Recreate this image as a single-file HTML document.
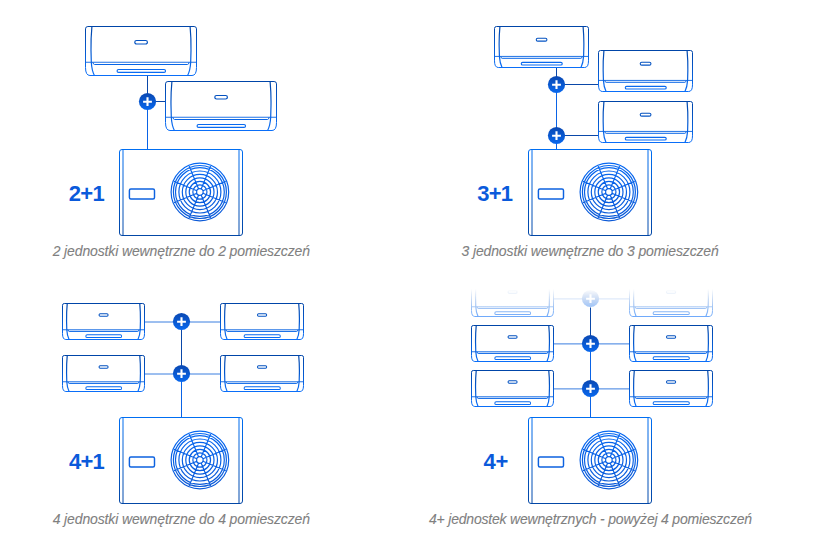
<!DOCTYPE html>
<html><head><meta charset="utf-8"><style>
html,body{margin:0;padding:0;background:#fff;width:820px;height:558px;overflow:hidden}
svg{display:block}
.lbl{font-family:"Liberation Sans",sans-serif;font-weight:bold;font-size:22px;letter-spacing:-0.4px;fill:#0a5adb}
.cap{font-family:"Liberation Sans",sans-serif;font-style:italic;font-size:14px;fill:#808080;stroke:#808080;stroke-width:0.1px}
</style></head><body>
<svg width="820" height="558" viewBox="0 0 820 558">
<defs><linearGradient id="g1" gradientUnits="userSpaceOnUse" x1="0" y1="26.5" x2="0" y2="75.5"><stop offset="0" stop-color="#0045a8"/><stop offset="1" stop-color="#0a6ef8"/></linearGradient><linearGradient id="g2" gradientUnits="userSpaceOnUse" x1="0" y1="81.5" x2="0" y2="130.5"><stop offset="0" stop-color="#0045a8"/><stop offset="1" stop-color="#0a6ef8"/></linearGradient><linearGradient id="g3" gradientUnits="userSpaceOnUse" x1="0" y1="92.9" x2="0" y2="110.1"><stop offset="0" stop-color="#0a48b2"/><stop offset="1" stop-color="#0868ee"/></linearGradient><linearGradient id="g4" gradientUnits="userSpaceOnUse" x1="0" y1="149.5" x2="0" y2="235.5"><stop offset="0" stop-color="#006ef2"/><stop offset="1" stop-color="#0347a6"/></linearGradient><linearGradient id="g5" gradientUnits="userSpaceOnUse" x1="0" y1="163.0" x2="0" y2="221.0"><stop offset="0" stop-color="#0668f2"/><stop offset="1" stop-color="#0a58d6"/></linearGradient><linearGradient id="g6" gradientUnits="userSpaceOnUse" x1="0" y1="26.5" x2="0" y2="67.5"><stop offset="0" stop-color="#0045a8"/><stop offset="1" stop-color="#0a6ef8"/></linearGradient><linearGradient id="g7" gradientUnits="userSpaceOnUse" x1="0" y1="50.5" x2="0" y2="91.5"><stop offset="0" stop-color="#0045a8"/><stop offset="1" stop-color="#0a6ef8"/></linearGradient><linearGradient id="g8" gradientUnits="userSpaceOnUse" x1="0" y1="101.5" x2="0" y2="142.5"><stop offset="0" stop-color="#0045a8"/><stop offset="1" stop-color="#0a6ef8"/></linearGradient><linearGradient id="g9" gradientUnits="userSpaceOnUse" x1="0" y1="75.9" x2="0" y2="93.1"><stop offset="0" stop-color="#0a48b2"/><stop offset="1" stop-color="#0868ee"/></linearGradient><linearGradient id="g10" gradientUnits="userSpaceOnUse" x1="0" y1="126.9" x2="0" y2="144.1"><stop offset="0" stop-color="#0a48b2"/><stop offset="1" stop-color="#0868ee"/></linearGradient><linearGradient id="g11" gradientUnits="userSpaceOnUse" x1="0" y1="149.5" x2="0" y2="235.5"><stop offset="0" stop-color="#006ef2"/><stop offset="1" stop-color="#0347a6"/></linearGradient><linearGradient id="g12" gradientUnits="userSpaceOnUse" x1="0" y1="163.0" x2="0" y2="221.0"><stop offset="0" stop-color="#0668f2"/><stop offset="1" stop-color="#0a58d6"/></linearGradient><linearGradient id="g13" gradientUnits="userSpaceOnUse" x1="0" y1="303.5" x2="0" y2="339.5"><stop offset="0" stop-color="#0045a8"/><stop offset="1" stop-color="#0a6ef8"/></linearGradient><linearGradient id="g14" gradientUnits="userSpaceOnUse" x1="0" y1="355.5" x2="0" y2="391.5"><stop offset="0" stop-color="#0045a8"/><stop offset="1" stop-color="#0a6ef8"/></linearGradient><linearGradient id="g15" gradientUnits="userSpaceOnUse" x1="0" y1="303.5" x2="0" y2="339.5"><stop offset="0" stop-color="#0045a8"/><stop offset="1" stop-color="#0a6ef8"/></linearGradient><linearGradient id="g16" gradientUnits="userSpaceOnUse" x1="0" y1="355.5" x2="0" y2="391.5"><stop offset="0" stop-color="#0045a8"/><stop offset="1" stop-color="#0a6ef8"/></linearGradient><linearGradient id="g17" gradientUnits="userSpaceOnUse" x1="0" y1="312.9" x2="0" y2="330.1"><stop offset="0" stop-color="#0a48b2"/><stop offset="1" stop-color="#0868ee"/></linearGradient><linearGradient id="g18" gradientUnits="userSpaceOnUse" x1="0" y1="364.9" x2="0" y2="382.1"><stop offset="0" stop-color="#0a48b2"/><stop offset="1" stop-color="#0868ee"/></linearGradient><linearGradient id="g19" gradientUnits="userSpaceOnUse" x1="0" y1="417.5" x2="0" y2="503.5"><stop offset="0" stop-color="#006ef2"/><stop offset="1" stop-color="#0347a6"/></linearGradient><linearGradient id="g20" gradientUnits="userSpaceOnUse" x1="0" y1="431.0" x2="0" y2="489.0"><stop offset="0" stop-color="#0668f2"/><stop offset="1" stop-color="#0a58d6"/></linearGradient><linearGradient id="g21" gradientUnits="userSpaceOnUse" x1="0" y1="325.5" x2="0" y2="361.5"><stop offset="0" stop-color="#0045a8"/><stop offset="1" stop-color="#0a6ef8"/></linearGradient><linearGradient id="g22" gradientUnits="userSpaceOnUse" x1="0" y1="370.5" x2="0" y2="406.5"><stop offset="0" stop-color="#0045a8"/><stop offset="1" stop-color="#0a6ef8"/></linearGradient><linearGradient id="g23" gradientUnits="userSpaceOnUse" x1="0" y1="325.5" x2="0" y2="361.5"><stop offset="0" stop-color="#0045a8"/><stop offset="1" stop-color="#0a6ef8"/></linearGradient><linearGradient id="g24" gradientUnits="userSpaceOnUse" x1="0" y1="370.5" x2="0" y2="406.5"><stop offset="0" stop-color="#0045a8"/><stop offset="1" stop-color="#0a6ef8"/></linearGradient><linearGradient id="g25" gradientUnits="userSpaceOnUse" x1="0" y1="334.9" x2="0" y2="352.1"><stop offset="0" stop-color="#0a48b2"/><stop offset="1" stop-color="#0868ee"/></linearGradient><linearGradient id="g26" gradientUnits="userSpaceOnUse" x1="0" y1="379.9" x2="0" y2="397.1"><stop offset="0" stop-color="#0a48b2"/><stop offset="1" stop-color="#0868ee"/></linearGradient><linearGradient id="fadeg" gradientUnits="userSpaceOnUse" x1="0" y1="289" x2="0" y2="322"><stop offset="0" stop-color="#fff" stop-opacity="0"/><stop offset="1" stop-color="#fff" stop-opacity="0.7"/></linearGradient><mask id="fade" maskUnits="userSpaceOnUse" x="0" y="270" width="820" height="60"><rect x="0" y="270" width="820" height="60" fill="url(#fadeg)"/></mask><linearGradient id="g27" gradientUnits="userSpaceOnUse" x1="0" y1="280.5" x2="0" y2="316.5"><stop offset="0" stop-color="#0045a8"/><stop offset="1" stop-color="#0a6ef8"/></linearGradient><linearGradient id="g28" gradientUnits="userSpaceOnUse" x1="0" y1="280.5" x2="0" y2="316.5"><stop offset="0" stop-color="#0045a8"/><stop offset="1" stop-color="#0a6ef8"/></linearGradient><linearGradient id="g29" gradientUnits="userSpaceOnUse" x1="0" y1="289.9" x2="0" y2="307.1"><stop offset="0" stop-color="#0a48b2"/><stop offset="1" stop-color="#0868ee"/></linearGradient><linearGradient id="g30" gradientUnits="userSpaceOnUse" x1="0" y1="417.5" x2="0" y2="503.5"><stop offset="0" stop-color="#006ef2"/><stop offset="1" stop-color="#0347a6"/></linearGradient><linearGradient id="g31" gradientUnits="userSpaceOnUse" x1="0" y1="431.0" x2="0" y2="489.0"><stop offset="0" stop-color="#0668f2"/><stop offset="1" stop-color="#0a58d6"/></linearGradient></defs>
<path d="M147.5,75.5 L147.5,101.5" stroke="#0a47a8" stroke-width="1.0" />
<path d="M147.5,101.5 L147.5,149.5" stroke="#0a63e6" stroke-width="1.0" />
<path d="M147.5,101.5 L165.5,101.5" stroke="#0a47a8" stroke-width="1.0" />
<g ><path d="M85.50,28.90 Q85.50,26.50 87.90,26.50 L194.10,26.50 Q196.50,26.50 196.50,28.90 L196.50,67.50 Q196.50,75.50 192.00,75.50 L90.00,75.50 Q85.50,75.50 85.50,67.50 Z M92.90,62.25 Q93.20,64.50 94.50,64.50 L187.50,64.50 Q188.80,64.50 189.10,62.25" fill="none" stroke="url(#g1)" stroke-width="1.0"/><path d="M136.55,40.50 L145.65,40.50 A1.75,1.75 0 0 1 145.65,44.00 L136.55,44.00 A1.75,1.75 0 0 1 136.55,40.50 Z M118.55,69.50 L164.05,69.50 A1.45,1.45 0 0 1 164.05,72.40 L118.55,72.40 A1.45,1.45 0 0 1 118.55,69.50 Z" fill="none" stroke="url(#g1)" stroke-width="1.20"/><path d="M91.90,26.50 Q90.80,38.50 91.00,50.50 L91.30,62.25 Q91.80,70.50 94.40,75.50 M190.10,26.50 Q191.20,38.50 191.00,50.50 L190.70,62.25 Q190.20,70.50 187.60,75.50" fill="none" stroke="url(#g1)" stroke-width="1.2"/><path d="M85.50,62.25 L196.50,62.25" stroke="url(#g1)" stroke-width="1.0" opacity="0.9"/></g>
<g ><path d="M165.50,83.90 Q165.50,81.50 167.90,81.50 L274.10,81.50 Q276.50,81.50 276.50,83.90 L276.50,122.50 Q276.50,130.50 272.00,130.50 L170.00,130.50 Q165.50,130.50 165.50,122.50 Z M172.90,117.25 Q173.20,119.50 174.50,119.50 L267.50,119.50 Q268.80,119.50 269.10,117.25" fill="none" stroke="url(#g2)" stroke-width="1.0"/><path d="M216.55,95.50 L225.65,95.50 A1.75,1.75 0 0 1 225.65,99.00 L216.55,99.00 A1.75,1.75 0 0 1 216.55,95.50 Z M198.55,124.50 L244.05,124.50 A1.45,1.45 0 0 1 244.05,127.40 L198.55,127.40 A1.45,1.45 0 0 1 198.55,124.50 Z" fill="none" stroke="url(#g2)" stroke-width="1.20"/><path d="M171.90,81.50 Q170.80,93.50 171.00,105.50 L171.30,117.25 Q171.80,125.50 174.40,130.50 M270.10,81.50 Q271.20,93.50 271.00,105.50 L270.70,117.25 Q270.20,125.50 267.60,130.50" fill="none" stroke="url(#g2)" stroke-width="1.2"/><path d="M165.50,117.25 L276.50,117.25" stroke="url(#g2)" stroke-width="1.0" opacity="0.9"/></g>
<g ><circle cx="147.5" cy="101.5" r="8.6" fill="url(#g3)"/><path d="M143.1,101.8 H151.9 M147.5,97.3 V106.0" stroke="#fff" stroke-width="2.1"/></g>
<path d="M119.50,152.00 Q119.50,149.50 122.00,149.50 L240.00,149.50 Q242.50,149.50 242.50,152.00 L242.50,233.00 Q242.50,235.50 240.00,235.50 L122.00,235.50 Q119.50,235.50 119.50,233.00 Z M123.00,149.50 L123.00,235.50 M239.00,149.50 L239.00,235.50" fill="none" stroke="url(#g4)" stroke-width="1.0"/>
<path d="M130.90,189.00 L153.00,189.00 Q154.50,189.00 154.50,190.50 L154.50,197.40 Q154.50,198.90 153.00,198.90 L130.90,198.90 Q129.40,198.90 129.40,197.40 L129.40,190.50 Q129.40,189.00 130.90,189.00 Z" fill="none" stroke="#0d62e0" stroke-width="1.45"/>
<path d="M171.10,192.00 A28.8,28.8 0 1 0 228.70,192.00 A28.8,28.8 0 1 0 171.10,192.00 Z M173.40,192.00 A26.5,26.5 0 1 0 226.40,192.00 A26.5,26.5 0 1 0 173.40,192.00 Z M175.50,192.00 A24.4,24.4 0 1 0 224.30,192.00 A24.4,24.4 0 1 0 175.50,192.00 Z M178.90,192.00 A21.0,21.0 0 1 0 220.90,192.00 A21.0,21.0 0 1 0 178.90,192.00 Z M182.30,192.00 A17.6,17.6 0 1 0 217.50,192.00 A17.6,17.6 0 1 0 182.30,192.00 Z M185.80,192.00 A14.1,14.1 0 1 0 214.00,192.00 A14.1,14.1 0 1 0 185.80,192.00 Z M189.25,192.00 A10.65,10.65 0 1 0 210.55,192.00 A10.65,10.65 0 1 0 189.25,192.00 Z M192.85,192.00 A7.05,7.05 0 1 0 206.95,192.00 A7.05,7.05 0 1 0 192.85,192.00 Z M196.60,192.00 A3.3,3.3 0 1 0 203.20,192.00 A3.3,3.3 0 1 0 196.60,192.00 Z M202.95,193.26 L225.77,202.72 M201.16,195.05 L210.62,217.87 M198.64,195.05 L189.18,217.87 M196.85,193.26 L174.03,202.72 M196.85,190.74 L174.03,181.28 M198.64,188.95 L189.18,166.13 M201.16,188.95 L210.62,166.13 M202.95,190.74 L225.77,181.28" fill="none" stroke="url(#g5)" stroke-width="1.2"/>
<text x="68.8" y="201" class="lbl" style="letter-spacing:-0.7px">2+1</text>
<text x="52.7" y="256" class="cap" style="letter-spacing:-0.13px">2 jednostki wewnętrzne do 2 pomieszczeń</text>
<path d="M556.5,67.5 L556.5,84.5" stroke="#0a47a8" stroke-width="1.0" />
<path d="M556.5,84.5 L556.5,149.5" stroke="#0a63e6" stroke-width="1.0" />
<path d="M556.5,84.5 L598.5,84.5" stroke="#0a47a8" stroke-width="1.0" />
<path d="M556.5,135.5 L598.5,135.5" stroke="#0a47a8" stroke-width="1.0" />
<g ><path d="M494.50,28.51 Q494.50,26.50 496.53,26.50 L586.47,26.50 Q588.50,26.50 588.50,28.51 L588.50,60.81 Q588.50,67.50 584.69,67.50 L498.31,67.50 Q494.50,67.50 494.50,60.81 Z M500.77,56.41 Q501.02,58.30 502.12,58.30 L580.88,58.30 Q581.98,58.30 582.23,56.41" fill="none" stroke="url(#g6)" stroke-width="1.0"/><path d="M537.71,38.21 L545.46,38.21 A1.46,1.46 0 0 1 545.46,41.14 L537.71,41.14 A1.46,1.46 0 0 1 537.71,38.21 Z M522.61,62.34 L560.90,62.34 A1.35,1.35 0 0 1 560.90,65.04 L522.61,65.04 A1.35,1.35 0 0 1 522.61,62.34 Z" fill="none" stroke="url(#g6)" stroke-width="1.09"/><path d="M499.92,26.50 Q498.99,36.54 499.16,46.58 L499.41,56.41 Q499.84,63.32 502.04,67.50 M583.08,26.50 Q584.01,36.54 583.84,46.58 L583.59,56.41 Q583.16,63.32 580.96,67.50" fill="none" stroke="url(#g6)" stroke-width="1.2"/><path d="M494.50,56.41 L588.50,56.41" stroke="url(#g6)" stroke-width="1.0" opacity="0.9"/></g>
<g ><path d="M598.50,52.51 Q598.50,50.50 600.53,50.50 L690.47,50.50 Q692.50,50.50 692.50,52.51 L692.50,84.81 Q692.50,91.50 688.69,91.50 L602.31,91.50 Q598.50,91.50 598.50,84.81 Z M604.77,80.41 Q605.02,82.30 606.12,82.30 L684.88,82.30 Q685.98,82.30 686.23,80.41" fill="none" stroke="url(#g7)" stroke-width="1.0"/><path d="M641.71,62.21 L649.46,62.21 A1.46,1.46 0 0 1 649.46,65.14 L641.71,65.14 A1.46,1.46 0 0 1 641.71,62.21 Z M626.61,86.34 L664.90,86.34 A1.35,1.35 0 0 1 664.90,89.04 L626.61,89.04 A1.35,1.35 0 0 1 626.61,86.34 Z" fill="none" stroke="url(#g7)" stroke-width="1.09"/><path d="M603.92,50.50 Q602.99,60.54 603.16,70.58 L603.41,80.41 Q603.84,87.32 606.04,91.50 M687.08,50.50 Q688.01,60.54 687.84,70.58 L687.59,80.41 Q687.16,87.32 684.96,91.50" fill="none" stroke="url(#g7)" stroke-width="1.2"/><path d="M598.50,80.41 L692.50,80.41" stroke="url(#g7)" stroke-width="1.0" opacity="0.9"/></g>
<g ><path d="M598.50,103.51 Q598.50,101.50 600.53,101.50 L690.47,101.50 Q692.50,101.50 692.50,103.51 L692.50,135.81 Q692.50,142.50 688.69,142.50 L602.31,142.50 Q598.50,142.50 598.50,135.81 Z M604.77,131.41 Q605.02,133.30 606.12,133.30 L684.88,133.30 Q685.98,133.30 686.23,131.41" fill="none" stroke="url(#g8)" stroke-width="1.0"/><path d="M641.71,113.21 L649.46,113.21 A1.46,1.46 0 0 1 649.46,116.14 L641.71,116.14 A1.46,1.46 0 0 1 641.71,113.21 Z M626.61,137.34 L664.90,137.34 A1.35,1.35 0 0 1 664.90,140.04 L626.61,140.04 A1.35,1.35 0 0 1 626.61,137.34 Z" fill="none" stroke="url(#g8)" stroke-width="1.09"/><path d="M603.92,101.50 Q602.99,111.54 603.16,121.58 L603.41,131.41 Q603.84,138.32 606.04,142.50 M687.08,101.50 Q688.01,111.54 687.84,121.58 L687.59,131.41 Q687.16,138.32 684.96,142.50" fill="none" stroke="url(#g8)" stroke-width="1.2"/><path d="M598.50,131.41 L692.50,131.41" stroke="url(#g8)" stroke-width="1.0" opacity="0.9"/></g>
<g ><circle cx="556.5" cy="84.5" r="8.6" fill="url(#g9)"/><path d="M552.1,84.8 H560.9 M556.5,80.3 V89.0" stroke="#fff" stroke-width="2.1"/></g>
<g ><circle cx="556.5" cy="135.5" r="8.6" fill="url(#g10)"/><path d="M552.1,135.8 H560.9 M556.5,131.3 V140.0" stroke="#fff" stroke-width="2.1"/></g>
<path d="M528.50,152.00 Q528.50,149.50 531.00,149.50 L649.00,149.50 Q651.50,149.50 651.50,152.00 L651.50,233.00 Q651.50,235.50 649.00,235.50 L531.00,235.50 Q528.50,235.50 528.50,233.00 Z M532.00,149.50 L532.00,235.50 M648.00,149.50 L648.00,235.50" fill="none" stroke="url(#g11)" stroke-width="1.0"/>
<path d="M539.90,189.00 L562.00,189.00 Q563.50,189.00 563.50,190.50 L563.50,197.40 Q563.50,198.90 562.00,198.90 L539.90,198.90 Q538.40,198.90 538.40,197.40 L538.40,190.50 Q538.40,189.00 539.90,189.00 Z" fill="none" stroke="#0d62e0" stroke-width="1.45"/>
<path d="M580.10,192.00 A28.8,28.8 0 1 0 637.70,192.00 A28.8,28.8 0 1 0 580.10,192.00 Z M582.40,192.00 A26.5,26.5 0 1 0 635.40,192.00 A26.5,26.5 0 1 0 582.40,192.00 Z M584.50,192.00 A24.4,24.4 0 1 0 633.30,192.00 A24.4,24.4 0 1 0 584.50,192.00 Z M587.90,192.00 A21.0,21.0 0 1 0 629.90,192.00 A21.0,21.0 0 1 0 587.90,192.00 Z M591.30,192.00 A17.6,17.6 0 1 0 626.50,192.00 A17.6,17.6 0 1 0 591.30,192.00 Z M594.80,192.00 A14.1,14.1 0 1 0 623.00,192.00 A14.1,14.1 0 1 0 594.80,192.00 Z M598.25,192.00 A10.65,10.65 0 1 0 619.55,192.00 A10.65,10.65 0 1 0 598.25,192.00 Z M601.85,192.00 A7.05,7.05 0 1 0 615.95,192.00 A7.05,7.05 0 1 0 601.85,192.00 Z M605.60,192.00 A3.3,3.3 0 1 0 612.20,192.00 A3.3,3.3 0 1 0 605.60,192.00 Z M611.95,193.26 L634.77,202.72 M610.16,195.05 L619.62,217.87 M607.64,195.05 L598.18,217.87 M605.85,193.26 L583.03,202.72 M605.85,190.74 L583.03,181.28 M607.64,188.95 L598.18,166.13 M610.16,188.95 L619.62,166.13 M611.95,190.74 L634.77,181.28" fill="none" stroke="url(#g12)" stroke-width="1.2"/>
<text x="477.3" y="201" class="lbl" style="letter-spacing:-0.8px">3+1</text>
<text x="461.5" y="256" class="cap" style="letter-spacing:-0.13px">3 jednostki wewnętrzne do 3 pomieszczeń</text>
<path d="M181.5,321.5 L181.5,373.5" stroke="#0a47a8" stroke-width="1.0" />
<path d="M181.5,373.5 L181.5,417.5" stroke="#0a63e6" stroke-width="1.0" />
<path d="M144.5,322 L220.5,322" stroke="#3a7ee0" stroke-width="1.0" />
<path d="M144.5,374 L220.5,374" stroke="#3a7ee0" stroke-width="1.0" />
<g ><path d="M62.50,305.26 Q62.50,303.50 64.27,303.50 L142.73,303.50 Q144.50,303.50 144.50,305.26 L144.50,333.62 Q144.50,339.50 141.18,339.50 L65.82,339.50 Q62.50,339.50 62.50,333.62 Z M67.97,329.77 Q68.19,331.42 69.15,331.42 L137.85,331.42 Q138.81,331.42 139.03,329.77" fill="none" stroke="url(#g13)" stroke-width="1.0"/><path d="M100.21,313.79 L106.94,313.79 A1.29,1.29 0 0 1 106.94,316.36 L100.21,316.36 A1.29,1.29 0 0 1 100.21,313.79 Z M87.19,334.81 L120.25,334.81 A1.35,1.35 0 0 1 120.25,337.51 L87.19,337.51 A1.35,1.35 0 0 1 87.19,334.81 Z" fill="none" stroke="url(#g13)" stroke-width="1.01"/><path d="M67.23,303.50 Q66.42,312.32 66.56,321.13 L66.78,329.77 Q67.15,335.83 69.07,339.50 M139.77,303.50 Q140.58,312.32 140.44,321.13 L140.22,329.77 Q139.85,335.83 137.93,339.50" fill="none" stroke="url(#g13)" stroke-width="1.2"/><path d="M62.50,329.77 L144.50,329.77" stroke="url(#g13)" stroke-width="1.0" opacity="0.9"/></g>
<g ><path d="M62.50,357.26 Q62.50,355.50 64.27,355.50 L142.73,355.50 Q144.50,355.50 144.50,357.26 L144.50,385.62 Q144.50,391.50 141.18,391.50 L65.82,391.50 Q62.50,391.50 62.50,385.62 Z M67.97,381.77 Q68.19,383.42 69.15,383.42 L137.85,383.42 Q138.81,383.42 139.03,381.77" fill="none" stroke="url(#g14)" stroke-width="1.0"/><path d="M100.21,365.79 L106.94,365.79 A1.29,1.29 0 0 1 106.94,368.36 L100.21,368.36 A1.29,1.29 0 0 1 100.21,365.79 Z M87.19,386.81 L120.25,386.81 A1.35,1.35 0 0 1 120.25,389.51 L87.19,389.51 A1.35,1.35 0 0 1 87.19,386.81 Z" fill="none" stroke="url(#g14)" stroke-width="1.01"/><path d="M67.23,355.50 Q66.42,364.32 66.56,373.13 L66.78,381.77 Q67.15,387.83 69.07,391.50 M139.77,355.50 Q140.58,364.32 140.44,373.13 L140.22,381.77 Q139.85,387.83 137.93,391.50" fill="none" stroke="url(#g14)" stroke-width="1.2"/><path d="M62.50,381.77 L144.50,381.77" stroke="url(#g14)" stroke-width="1.0" opacity="0.9"/></g>
<g ><path d="M220.50,305.26 Q220.50,303.50 222.29,303.50 L301.71,303.50 Q303.50,303.50 303.50,305.26 L303.50,333.62 Q303.50,339.50 300.14,339.50 L223.86,339.50 Q220.50,339.50 220.50,333.62 Z M226.03,329.77 Q226.26,331.42 227.23,331.42 L296.77,331.42 Q297.74,331.42 297.97,329.77" fill="none" stroke="url(#g15)" stroke-width="1.0"/><path d="M258.65,313.79 L265.50,313.79 A1.29,1.29 0 0 1 265.50,316.36 L258.65,316.36 A1.29,1.29 0 0 1 258.65,313.79 Z M245.48,334.81 L278.97,334.81 A1.35,1.35 0 0 1 278.97,337.51 L245.48,337.51 A1.35,1.35 0 0 1 245.48,334.81 Z" fill="none" stroke="url(#g15)" stroke-width="1.01"/><path d="M225.29,303.50 Q224.46,312.32 224.61,321.13 L224.84,329.77 Q225.21,335.83 227.15,339.50 M298.71,303.50 Q299.54,312.32 299.39,321.13 L299.16,329.77 Q298.79,335.83 296.85,339.50" fill="none" stroke="url(#g15)" stroke-width="1.2"/><path d="M220.50,329.77 L303.50,329.77" stroke="url(#g15)" stroke-width="1.0" opacity="0.9"/></g>
<g ><path d="M220.50,357.26 Q220.50,355.50 222.29,355.50 L301.71,355.50 Q303.50,355.50 303.50,357.26 L303.50,385.62 Q303.50,391.50 300.14,391.50 L223.86,391.50 Q220.50,391.50 220.50,385.62 Z M226.03,381.77 Q226.26,383.42 227.23,383.42 L296.77,383.42 Q297.74,383.42 297.97,381.77" fill="none" stroke="url(#g16)" stroke-width="1.0"/><path d="M258.65,365.79 L265.50,365.79 A1.29,1.29 0 0 1 265.50,368.36 L258.65,368.36 A1.29,1.29 0 0 1 258.65,365.79 Z M245.48,386.81 L278.97,386.81 A1.35,1.35 0 0 1 278.97,389.51 L245.48,389.51 A1.35,1.35 0 0 1 245.48,386.81 Z" fill="none" stroke="url(#g16)" stroke-width="1.01"/><path d="M225.29,355.50 Q224.46,364.32 224.61,373.13 L224.84,381.77 Q225.21,387.83 227.15,391.50 M298.71,355.50 Q299.54,364.32 299.39,373.13 L299.16,381.77 Q298.79,387.83 296.85,391.50" fill="none" stroke="url(#g16)" stroke-width="1.2"/><path d="M220.50,381.77 L303.50,381.77" stroke="url(#g16)" stroke-width="1.0" opacity="0.9"/></g>
<g ><circle cx="181.5" cy="321.5" r="8.6" fill="url(#g17)"/><path d="M177.1,321.8 H185.9 M181.5,317.3 V326.0" stroke="#fff" stroke-width="2.1"/></g>
<g ><circle cx="181.5" cy="373.5" r="8.6" fill="url(#g18)"/><path d="M177.1,373.8 H185.9 M181.5,369.3 V378.0" stroke="#fff" stroke-width="2.1"/></g>
<path d="M119.50,420.00 Q119.50,417.50 122.00,417.50 L240.00,417.50 Q242.50,417.50 242.50,420.00 L242.50,501.00 Q242.50,503.50 240.00,503.50 L122.00,503.50 Q119.50,503.50 119.50,501.00 Z M123.00,417.50 L123.00,503.50 M239.00,417.50 L239.00,503.50" fill="none" stroke="url(#g19)" stroke-width="1.0"/>
<path d="M130.90,457.00 L153.00,457.00 Q154.50,457.00 154.50,458.50 L154.50,465.40 Q154.50,466.90 153.00,466.90 L130.90,466.90 Q129.40,466.90 129.40,465.40 L129.40,458.50 Q129.40,457.00 130.90,457.00 Z" fill="none" stroke="#0d62e0" stroke-width="1.45"/>
<path d="M171.10,460.00 A28.8,28.8 0 1 0 228.70,460.00 A28.8,28.8 0 1 0 171.10,460.00 Z M173.40,460.00 A26.5,26.5 0 1 0 226.40,460.00 A26.5,26.5 0 1 0 173.40,460.00 Z M175.50,460.00 A24.4,24.4 0 1 0 224.30,460.00 A24.4,24.4 0 1 0 175.50,460.00 Z M178.90,460.00 A21.0,21.0 0 1 0 220.90,460.00 A21.0,21.0 0 1 0 178.90,460.00 Z M182.30,460.00 A17.6,17.6 0 1 0 217.50,460.00 A17.6,17.6 0 1 0 182.30,460.00 Z M185.80,460.00 A14.1,14.1 0 1 0 214.00,460.00 A14.1,14.1 0 1 0 185.80,460.00 Z M189.25,460.00 A10.65,10.65 0 1 0 210.55,460.00 A10.65,10.65 0 1 0 189.25,460.00 Z M192.85,460.00 A7.05,7.05 0 1 0 206.95,460.00 A7.05,7.05 0 1 0 192.85,460.00 Z M196.60,460.00 A3.3,3.3 0 1 0 203.20,460.00 A3.3,3.3 0 1 0 196.60,460.00 Z M202.95,461.26 L225.77,470.72 M201.16,463.05 L210.62,485.87 M198.64,463.05 L189.18,485.87 M196.85,461.26 L174.03,470.72 M196.85,458.74 L174.03,449.28 M198.64,456.95 L189.18,434.13 M201.16,456.95 L210.62,434.13 M202.95,458.74 L225.77,449.28" fill="none" stroke="url(#g20)" stroke-width="1.2"/>
<text x="69" y="469" class="lbl" style="letter-spacing:-0.8px">4+1</text>
<text x="52.7" y="524" class="cap" style="letter-spacing:-0.13px">4 jednostki wewnętrzne do 4 pomieszczeń</text>
<path d="M590.5,307.5 L590.5,343.5" stroke="#0a47a8" stroke-width="1.0" />
<path d="M590.5,343.5 L590.5,417.5" stroke="#0a63e6" stroke-width="1.0" />
<path d="M553.5,343.9 L629.5,343.9" stroke="#3a7ee0" stroke-width="1.0" />
<path d="M553.5,388.9 L629.5,388.9" stroke="#3a7ee0" stroke-width="1.0" />
<g ><path d="M471.50,327.26 Q471.50,325.50 473.27,325.50 L551.73,325.50 Q553.50,325.50 553.50,327.26 L553.50,355.62 Q553.50,361.50 550.18,361.50 L474.82,361.50 Q471.50,361.50 471.50,355.62 Z M476.97,351.77 Q477.19,353.42 478.15,353.42 L546.85,353.42 Q547.81,353.42 548.03,351.77" fill="none" stroke="url(#g21)" stroke-width="1.0"/><path d="M509.21,335.79 L515.94,335.79 A1.29,1.29 0 0 1 515.94,338.36 L509.21,338.36 A1.29,1.29 0 0 1 509.21,335.79 Z M496.19,356.81 L529.25,356.81 A1.35,1.35 0 0 1 529.25,359.51 L496.19,359.51 A1.35,1.35 0 0 1 496.19,356.81 Z" fill="none" stroke="url(#g21)" stroke-width="1.01"/><path d="M476.23,325.50 Q475.42,334.32 475.56,343.13 L475.78,351.77 Q476.15,357.83 478.07,361.50 M548.77,325.50 Q549.58,334.32 549.44,343.13 L549.22,351.77 Q548.85,357.83 546.93,361.50" fill="none" stroke="url(#g21)" stroke-width="1.2"/><path d="M471.50,351.77 L553.50,351.77" stroke="url(#g21)" stroke-width="1.0" opacity="0.9"/></g>
<g ><path d="M471.50,372.26 Q471.50,370.50 473.27,370.50 L551.73,370.50 Q553.50,370.50 553.50,372.26 L553.50,400.62 Q553.50,406.50 550.18,406.50 L474.82,406.50 Q471.50,406.50 471.50,400.62 Z M476.97,396.77 Q477.19,398.42 478.15,398.42 L546.85,398.42 Q547.81,398.42 548.03,396.77" fill="none" stroke="url(#g22)" stroke-width="1.0"/><path d="M509.21,380.79 L515.94,380.79 A1.29,1.29 0 0 1 515.94,383.36 L509.21,383.36 A1.29,1.29 0 0 1 509.21,380.79 Z M496.19,401.81 L529.25,401.81 A1.35,1.35 0 0 1 529.25,404.51 L496.19,404.51 A1.35,1.35 0 0 1 496.19,401.81 Z" fill="none" stroke="url(#g22)" stroke-width="1.01"/><path d="M476.23,370.50 Q475.42,379.32 475.56,388.13 L475.78,396.77 Q476.15,402.83 478.07,406.50 M548.77,370.50 Q549.58,379.32 549.44,388.13 L549.22,396.77 Q548.85,402.83 546.93,406.50" fill="none" stroke="url(#g22)" stroke-width="1.2"/><path d="M471.50,396.77 L553.50,396.77" stroke="url(#g22)" stroke-width="1.0" opacity="0.9"/></g>
<g ><path d="M629.50,327.26 Q629.50,325.50 631.29,325.50 L710.71,325.50 Q712.50,325.50 712.50,327.26 L712.50,355.62 Q712.50,361.50 709.14,361.50 L632.86,361.50 Q629.50,361.50 629.50,355.62 Z M635.03,351.77 Q635.26,353.42 636.23,353.42 L705.77,353.42 Q706.74,353.42 706.97,351.77" fill="none" stroke="url(#g23)" stroke-width="1.0"/><path d="M667.65,335.79 L674.50,335.79 A1.29,1.29 0 0 1 674.50,338.36 L667.65,338.36 A1.29,1.29 0 0 1 667.65,335.79 Z M654.48,356.81 L687.97,356.81 A1.35,1.35 0 0 1 687.97,359.51 L654.48,359.51 A1.35,1.35 0 0 1 654.48,356.81 Z" fill="none" stroke="url(#g23)" stroke-width="1.01"/><path d="M634.29,325.50 Q633.46,334.32 633.61,343.13 L633.84,351.77 Q634.21,357.83 636.15,361.50 M707.71,325.50 Q708.54,334.32 708.39,343.13 L708.16,351.77 Q707.79,357.83 705.85,361.50" fill="none" stroke="url(#g23)" stroke-width="1.2"/><path d="M629.50,351.77 L712.50,351.77" stroke="url(#g23)" stroke-width="1.0" opacity="0.9"/></g>
<g ><path d="M629.50,372.26 Q629.50,370.50 631.29,370.50 L710.71,370.50 Q712.50,370.50 712.50,372.26 L712.50,400.62 Q712.50,406.50 709.14,406.50 L632.86,406.50 Q629.50,406.50 629.50,400.62 Z M635.03,396.77 Q635.26,398.42 636.23,398.42 L705.77,398.42 Q706.74,398.42 706.97,396.77" fill="none" stroke="url(#g24)" stroke-width="1.0"/><path d="M667.65,380.79 L674.50,380.79 A1.29,1.29 0 0 1 674.50,383.36 L667.65,383.36 A1.29,1.29 0 0 1 667.65,380.79 Z M654.48,401.81 L687.97,401.81 A1.35,1.35 0 0 1 687.97,404.51 L654.48,404.51 A1.35,1.35 0 0 1 654.48,401.81 Z" fill="none" stroke="url(#g24)" stroke-width="1.01"/><path d="M634.29,370.50 Q633.46,379.32 633.61,388.13 L633.84,396.77 Q634.21,402.83 636.15,406.50 M707.71,370.50 Q708.54,379.32 708.39,388.13 L708.16,396.77 Q707.79,402.83 705.85,406.50" fill="none" stroke="url(#g24)" stroke-width="1.2"/><path d="M629.50,396.77 L712.50,396.77" stroke="url(#g24)" stroke-width="1.0" opacity="0.9"/></g>
<g ><circle cx="590.5" cy="343.5" r="8.6" fill="url(#g25)"/><path d="M586.1,343.8 H594.9 M590.5,339.3 V348.0" stroke="#fff" stroke-width="2.1"/></g>
<g ><circle cx="590.5" cy="388.5" r="8.6" fill="url(#g26)"/><path d="M586.1,388.8 H594.9 M590.5,384.3 V393.0" stroke="#fff" stroke-width="2.1"/></g>
<g mask="url(#fade)"><path d="M553.5,298.9 L629.5,298.9" stroke="#3a7ee0" stroke-width="1.0" /><g ><path d="M471.50,282.26 Q471.50,280.50 473.27,280.50 L551.73,280.50 Q553.50,280.50 553.50,282.26 L553.50,310.62 Q553.50,316.50 550.18,316.50 L474.82,316.50 Q471.50,316.50 471.50,310.62 Z M476.97,306.77 Q477.19,308.42 478.15,308.42 L546.85,308.42 Q547.81,308.42 548.03,306.77" fill="none" stroke="url(#g27)" stroke-width="1.0"/><path d="M509.21,290.79 L515.94,290.79 A1.29,1.29 0 0 1 515.94,293.36 L509.21,293.36 A1.29,1.29 0 0 1 509.21,290.79 Z M496.19,311.81 L529.25,311.81 A1.35,1.35 0 0 1 529.25,314.51 L496.19,314.51 A1.35,1.35 0 0 1 496.19,311.81 Z" fill="none" stroke="url(#g27)" stroke-width="1.01"/><path d="M476.23,280.50 Q475.42,289.32 475.56,298.13 L475.78,306.77 Q476.15,312.83 478.07,316.50 M548.77,280.50 Q549.58,289.32 549.44,298.13 L549.22,306.77 Q548.85,312.83 546.93,316.50" fill="none" stroke="url(#g27)" stroke-width="1.2"/><path d="M471.50,306.77 L553.50,306.77" stroke="url(#g27)" stroke-width="1.0" opacity="0.9"/></g><g ><path d="M629.50,282.26 Q629.50,280.50 631.29,280.50 L710.71,280.50 Q712.50,280.50 712.50,282.26 L712.50,310.62 Q712.50,316.50 709.14,316.50 L632.86,316.50 Q629.50,316.50 629.50,310.62 Z M635.03,306.77 Q635.26,308.42 636.23,308.42 L705.77,308.42 Q706.74,308.42 706.97,306.77" fill="none" stroke="url(#g28)" stroke-width="1.0"/><path d="M667.65,290.79 L674.50,290.79 A1.29,1.29 0 0 1 674.50,293.36 L667.65,293.36 A1.29,1.29 0 0 1 667.65,290.79 Z M654.48,311.81 L687.97,311.81 A1.35,1.35 0 0 1 687.97,314.51 L654.48,314.51 A1.35,1.35 0 0 1 654.48,311.81 Z" fill="none" stroke="url(#g28)" stroke-width="1.01"/><path d="M634.29,280.50 Q633.46,289.32 633.61,298.13 L633.84,306.77 Q634.21,312.83 636.15,316.50 M707.71,280.50 Q708.54,289.32 708.39,298.13 L708.16,306.77 Q707.79,312.83 705.85,316.50" fill="none" stroke="url(#g28)" stroke-width="1.2"/><path d="M629.50,306.77 L712.50,306.77" stroke="url(#g28)" stroke-width="1.0" opacity="0.9"/></g><g ><circle cx="590.5" cy="298.5" r="8.6" fill="url(#g29)"/><path d="M586.1,298.8 H594.9 M590.5,294.3 V303.0" stroke="#fff" stroke-width="2.1"/></g></g>
<path d="M528.50,420.00 Q528.50,417.50 531.00,417.50 L649.00,417.50 Q651.50,417.50 651.50,420.00 L651.50,501.00 Q651.50,503.50 649.00,503.50 L531.00,503.50 Q528.50,503.50 528.50,501.00 Z M532.00,417.50 L532.00,503.50 M648.00,417.50 L648.00,503.50" fill="none" stroke="url(#g30)" stroke-width="1.0"/>
<path d="M539.90,457.00 L562.00,457.00 Q563.50,457.00 563.50,458.50 L563.50,465.40 Q563.50,466.90 562.00,466.90 L539.90,466.90 Q538.40,466.90 538.40,465.40 L538.40,458.50 Q538.40,457.00 539.90,457.00 Z" fill="none" stroke="#0d62e0" stroke-width="1.45"/>
<path d="M580.10,460.00 A28.8,28.8 0 1 0 637.70,460.00 A28.8,28.8 0 1 0 580.10,460.00 Z M582.40,460.00 A26.5,26.5 0 1 0 635.40,460.00 A26.5,26.5 0 1 0 582.40,460.00 Z M584.50,460.00 A24.4,24.4 0 1 0 633.30,460.00 A24.4,24.4 0 1 0 584.50,460.00 Z M587.90,460.00 A21.0,21.0 0 1 0 629.90,460.00 A21.0,21.0 0 1 0 587.90,460.00 Z M591.30,460.00 A17.6,17.6 0 1 0 626.50,460.00 A17.6,17.6 0 1 0 591.30,460.00 Z M594.80,460.00 A14.1,14.1 0 1 0 623.00,460.00 A14.1,14.1 0 1 0 594.80,460.00 Z M598.25,460.00 A10.65,10.65 0 1 0 619.55,460.00 A10.65,10.65 0 1 0 598.25,460.00 Z M601.85,460.00 A7.05,7.05 0 1 0 615.95,460.00 A7.05,7.05 0 1 0 601.85,460.00 Z M605.60,460.00 A3.3,3.3 0 1 0 612.20,460.00 A3.3,3.3 0 1 0 605.60,460.00 Z M611.95,461.26 L634.77,470.72 M610.16,463.05 L619.62,485.87 M607.64,463.05 L598.18,485.87 M605.85,461.26 L583.03,470.72 M605.85,458.74 L583.03,449.28 M607.64,456.95 L598.18,434.13 M610.16,456.95 L619.62,434.13 M611.95,458.74 L634.77,449.28" fill="none" stroke="url(#g31)" stroke-width="1.2"/>
<text x="483.6" y="469" class="lbl" style="letter-spacing:-0.4px">4+</text>
<text x="429" y="524" class="cap" style="letter-spacing:-0.2px">4+ jednostek wewnętrznych - powyżej 4 pomieszczeń</text>
</svg>
</body></html>
